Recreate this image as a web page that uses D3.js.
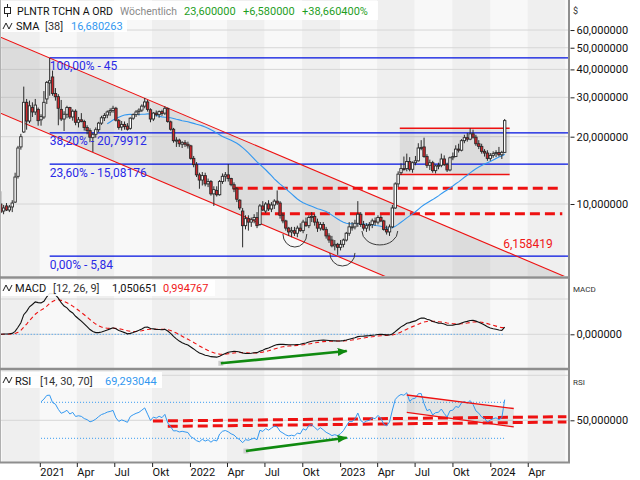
<!DOCTYPE html>
<html><head><meta charset="utf-8">
<script src="https://cdn.jsdelivr.net/npm/d3@7/dist/d3.min.js"></script>
<style>
html,body{margin:0;padding:0;background:#fff;}
text{font-family:Roboto,"Liberation Sans",Arial,sans-serif;}
</style></head><body>
<svg id="chart" width="640" height="480"></svg>
<script>
// ---------------- DATA ----------------
const firstWeek = "2020-09-28";
const opens = [10.0,9.3,9.8,9.4,9.7,10.2,13.3,18.0,21.0,28.5,23.5,27.0,25.8,26.5,23.8,24.5,29.5,34.8,37.0,31.2,
30.2,26.5,24.0,25.2,27.0,24.5,26.0,23.2,23.8,23.4,22.0,21.3,19.8,20.5,21.5,23.0,24.3,25.0,25.8,26.2,
26.8,23.6,22.1,22.7,22.3,21.8,24.2,25.1,25.9,26.3,27.4,28.6,26.4,24.0,25.5,25.1,25.9,25.5,26.7,23.3,
21.6,19.2,19.3,18.5,18.8,18.5,18.2,16.0,15.0,13.5,12.8,13.4,12.3,12.6,11.1,11.5,11.0,12.6,13.3,13.5,
13.0,12.2,11.7,10.4,9.3,8.0,8.6,8.3,8.5,8.7,8.1,9.8,9.3,10.0,9.5,9.9,10.3,10.1,8.9,8.4,
7.8,7.5,7.6,7.4,7.8,7.6,8.3,8.0,8.7,8.8,8.3,7.8,8.1,7.7,7.2,6.9,6.5,6.6,6.4,6.6,
6.9,7.4,7.9,7.9,8.2,9.0,8.1,7.8,8.0,8.1,8.4,8.3,8.7,8.4,7.7,7.5,7.9,9.6,12.3,13.8,
14.4,14.4,15.5,14.3,15.3,15.6,17.8,18.0,16.3,14.9,15.3,14.1,14.8,14.9,15.9,15.0,14.2,16.1,16.3,17.6,
17.4,19.2,19.8,19.5,20.6,19.9,18.6,18.1,17.2,16.9,16.0,16.5,16.8,17.0,16.6,17.02];
const highs = [11.4,9.9,10.1,9.9,10.4,13.8,18.2,20.6,33.5,29.5,29.0,28.5,29.5,27.0,25.2,32.0,35.5,45.0,39.5,33.0,
31.0,29.2,26.0,27.5,27.2,26.5,26.5,24.5,25.5,23.8,22.5,21.8,20.8,22.0,23.3,24.8,25.5,26.2,26.8,27.5,
27.2,24.0,23.5,23.4,23.0,24.4,25.4,26.3,26.8,27.9,29.8,29.2,26.8,25.8,26.2,26.2,26.4,27.4,27.0,23.6,
21.9,19.9,19.6,19.1,19.3,19.0,18.4,16.4,15.4,13.8,13.9,13.8,13.0,12.8,12.0,12.0,12.8,13.7,13.9,15.1,
13.1,12.5,11.9,10.5,9.6,8.9,8.9,8.7,9.0,9.2,10.0,10.3,10.2,10.4,10.2,10.5,11.5,10.3,9.1,8.5,
7.9,7.9,7.9,8.0,8.2,8.5,8.7,8.9,9.2,9.0,8.6,8.3,8.3,7.9,7.4,7.2,6.9,6.7,6.9,7.0,
7.5,8.3,8.3,8.5,10.3,9.2,8.4,8.2,8.3,8.6,8.7,8.9,8.9,8.5,8.0,8.1,9.9,12.5,14.0,15.2,
16.3,16.8,16.2,15.5,16.4,18.7,19.3,19.8,16.7,15.8,15.6,15.0,15.3,16.8,16.5,15.3,16.3,17.0,18.3,18.6,
19.5,20.4,20.8,21.8,21.5,20.4,19.3,18.6,17.6,17.4,16.9,17.2,17.4,18.0,17.3,24.0];
const lows = [9.1,9.0,9.3,9.2,9.2,10.1,13.0,17.5,20.8,21.5,23.0,24.5,25.0,22.4,22.4,24.0,28.0,30.5,30.5,29.0,
22.5,23.5,21.2,24.2,24.0,23.6,22.5,22.0,23.2,21.3,20.5,18.9,17.1,19.8,21.0,22.6,23.5,24.2,24.8,25.6,
23.4,21.5,21.3,21.5,21.3,21.5,23.8,24.5,24.9,25.8,26.8,25.9,23.2,23.5,24.6,24.3,24.8,25.0,23.1,21.3,
18.8,18.0,18.0,17.8,18.0,17.7,15.8,14.6,13.2,11.7,12.1,12.0,11.9,10.9,9.8,10.8,10.9,12.3,12.6,12.6,
12.0,11.3,10.2,9.4,6.4,7.7,7.6,7.9,8.2,7.8,8.0,9.3,9.1,9.3,9.2,9.5,9.9,8.6,8.2,7.6,
7.2,7.1,7.2,7.1,7.5,7.4,7.9,7.8,8.3,8.0,7.5,7.6,7.6,7.0,6.7,6.4,6.2,5.92,6.2,6.4,
6.8,7.2,7.6,7.7,7.9,7.9,7.6,7.5,7.6,7.8,8.0,8.1,8.3,7.6,7.3,7.2,7.8,9.5,11.9,13.5,
14.1,14.0,14.0,13.8,14.9,15.5,17.4,16.1,14.5,14.2,13.8,13.7,14.3,14.6,14.8,13.9,14.0,15.7,16.2,17.0,
17.2,18.7,19.0,19.3,19.6,18.2,17.6,16.8,16.3,15.6,15.6,16.1,16.2,16.3,15.9,16.9];
const closes = [9.2,9.6,9.4,9.7,10.1,13.2,17.8,20.0,28.5,23.5,27.5,25.8,27.7,23.6,24.6,28.5,35.0,35.6,31.2,30.2,
26.8,24.0,25.2,27.0,24.5,26.0,23.2,23.8,23.4,22.0,21.3,19.9,20.5,21.5,23.0,24.3,24.9,25.8,26.2,26.8,
23.7,22.0,22.7,22.2,21.6,24.2,25.1,25.8,26.3,27.4,28.6,26.5,24.0,25.5,25.1,25.9,25.4,26.8,23.4,21.6,
19.2,19.3,18.6,18.8,18.5,18.2,16.0,15.0,13.5,12.8,13.4,12.3,12.6,11.1,11.6,11.0,12.6,13.3,13.5,13.0,
12.2,11.7,10.5,9.6,8.0,8.6,8.3,8.5,8.7,8.0,9.8,9.4,10.0,9.5,9.9,10.3,10.1,8.9,8.4,7.8,
7.5,7.6,7.4,7.8,7.6,8.3,8.0,8.7,8.8,8.3,7.8,8.1,7.7,7.2,6.9,6.5,6.6,6.4,6.6,6.9,
7.4,7.9,7.9,8.2,9.0,8.1,7.8,8.0,8.1,8.4,8.3,8.7,8.4,7.7,7.5,7.9,9.6,12.3,13.6,14.4,
14.3,15.5,14.3,15.3,15.6,17.8,17.9,16.3,14.9,15.3,14.1,14.8,14.9,15.9,15.0,14.2,16.1,16.3,17.6,17.4,
19.2,19.8,19.5,20.6,19.9,18.6,18.1,17.2,16.9,16.0,16.5,16.8,17.0,16.6,17.02,23.6];

const priceTicks = [10,20,30,40,50,60];
const xTickDates = ["2021-01-01","2021-04-01","2021-07-01","2021-10-01","2022-01-01","2022-04-01","2022-07-01","2022-10-01",
                    "2023-01-01","2023-04-01","2023-07-01","2023-10-01","2024-01-01","2024-04-01"];
const xTickLabels = ["2021","Apr","Jul","Okt","2022","Apr","Jul","Okt","2023","Apr","Jul","Okt","2024","Apr"];
const fibLevels = [45, 20.79912, 15.08176, 5.84];
const fibLabels = ["100,00% - 45","38,20% - 20,79912","23,60% - 15,08176","0,00% - 5,84"];
const fibStart = "2021-01-25";
const channelUpper = [["2021-01-25",45],["2024-02-05",6.158419]];
const channelRatio = 2.19;
const channelLabel = "6,158419";
const supportLevels = [11.75, 9.05];
const supportStarts = ["2022-04-15","2022-06-20"];
const supportEnd = "2024-06-24";
const boxDates = ["2023-05-26","2024-02-17"];
const boxLevels = [21.8, 13.55];
const arcDates = [["2022-08-15","2022-10-12"],["2022-12-07","2023-02-06"],["2023-02-23","2023-05-21"]];
const arcLevels = [[7.34,6.42],[6.04,5.28],[7.57,6.56]];
const macdArrow = [["2022-03-17",-4.11],["2023-01-17",-2.37]];
const rsiArrow = [["2022-05-17",15.9],["2023-01-17",30.7]];
const rsiChanUpper = [["2023-06-12",78.1],["2024-02-27",63.1]];
const rsiChanLower = [["2023-06-12",58.7],["2024-02-27",42.6]];
const rsiDashA = [["2021-10-03",49.2],["2024-07-04",54.0]];
const rsiDashB = [["2021-11-08",43.3],["2024-07-04",48.1]];

// ---------------- LAYOUT ----------------
const svg = d3.select("#chart");
const PR = 568.5;                 // plot right edge
const main = {t:0, b:276}, mp = {t:279, b:368}, rp = {t:370, b:462};
const parse = d3.utcParse("%Y-%m-%d");
const t0 = parse(firstWeek);
const dates = closes.map((c,i)=>d3.utcDay.offset(t0, 7*i));

const x = d3.scaleUtc().domain([parse("2021-01-01"), parse("2024-01-01")]).range([39.8, 490.3]);
const y = d3.scaleLog().domain([10,20]).range([204,136.7]);
const ym = d3.scaleLinear().domain([0,5]).range([334.3,299]);
const yr = d3.scaleLinear().domain([50,100]).range([420.3,375.3]);
const de = d3.formatLocale({decimal:",",thousands:".",grouping:[3],currency:["","$"]});
const f6 = de.format(".6f");

// indicators
function ema(arr,n){const k=2/(n+1);let p=arr[0];return arr.map((v,i)=>{p=i===0?v:v*k+p*(1-k);return p;});}
const e12 = ema(closes,12), e26 = ema(closes,26);
const macd = e12.map((v,i)=>v-e26[i]);
const signal = ema(macd,9);
const sma = closes.map((c,i)=> i<37 ? null : d3.mean(closes.slice(i-37,i+1)));
const rsi = new Array(closes.length).fill(null);
{ let ag=0, al=0;
  for(let i=1;i<closes.length;i++){
    const ch=closes[i]-closes[i-1], g=Math.max(ch,0), l=Math.max(-ch,0);
    if(i<=14){ ag+=g/14; al+=l/14; if(i===14) rsi[i]=100-100/(1+ag/al); }
    else { ag=(ag*13+g)/14; al=(al*13+l)/14; rsi[i]=100-100/(1+ag/al); }
  } }

// defs
const defs = svg.append("defs");
function clip(id,t,b){defs.append("clipPath").attr("id",id).append("rect").attr("x",0).attr("y",t).attr("width",PR).attr("height",b-t);}
clip("cMain",main.t,main.b); clip("cMacd",mp.t,mp.b); clip("cRsi",rp.t,rp.b);
defs.append("marker").attr("id","arrG").attr("viewBox","0 0 10 8").attr("refX",9).attr("refY",4)
  .attr("markerWidth",10).attr("markerHeight",8).attr("markerUnits","userSpaceOnUse").attr("orient","auto")
  .append("path").attr("d","M0,0 L10,4 L0,8 Z").attr("fill","#108a10");

// backgrounds with quarter bands
const quarters = d3.utcMonth.every(3).range(parse("2020-07-01"), parse("2024-10-02"));
function bands(p, cid){
  const g = svg.append("g").attr("clip-path",`url(#${cid})`);
  g.append("rect").attr("x",0).attr("y",p.t).attr("width",PR).attr("height",p.b-p.t).attr("fill","#f4f4f4");
  quarters.forEach((q,k)=>{
    const q2 = d3.utcMonth.offset(q,3);
    g.append("rect").attr("x",x(q)).attr("y",p.t).attr("width",x(q2)-x(q)).attr("height",p.b-p.t)
      .attr("fill", (q.getUTCMonth()/3)%2===0 ? "#f8f8f8" : "#efefef");
  });
}
bands(main,"cMain"); bands(mp,"cMacd"); bands(rp,"cRsi");

// grid lines
const grid = svg.append("g").attr("stroke","#d6d6d6").attr("stroke-width",1);
priceTicks.forEach(v=>grid.append("line").attr("x1",0).attr("x2",PR).attr("y1",y(v)).attr("y2",y(v)));
[0,5].forEach(v=>grid.append("line").attr("x1",0).attr("x2",PR).attr("y1",ym(v)).attr("y2",ym(v)));
[50,100].forEach(v=>grid.append("line").attr("x1",0).attr("x2",PR).attr("y1",yr(v)).attr("y2",yr(v)));

// ---------------- MAIN PANEL ----------------
const gm = svg.append("g").attr("clip-path","url(#cMain)");
const ax = x(parse(channelUpper[0][0])), ay = y(channelUpper[0][1]);
const bx = x(parse(channelUpper[1][0])), by = y(channelUpper[1][1]);
const slope = (by-ay)/(bx-ax);
const yU = px => ay + (px-ax)*slope;
const off = y(10/channelRatio) - y(10);
gm.append("path").attr("d",`M0,${yU(0)} L${PR},${yU(PR)} L${PR},${yU(PR)+off} L0,${yU(0)+off} Z`)
  .attr("fill","#7a7a7a").attr("fill-opacity",0.16);
const bxa = x(parse(boxDates[0])), bxb = x(parse(boxDates[1]));
gm.append("rect").attr("x",bxa).attr("y",y(boxLevels[0])).attr("width",bxb-bxa).attr("height",y(boxLevels[1])-y(boxLevels[0]))
  .attr("fill","#7a7a7a").attr("fill-opacity",0.16);
fibLevels.forEach(v=>gm.append("line").attr("x1",x(parse(fibStart))).attr("x2",PR).attr("y1",y(v)).attr("y2",y(v))
  .attr("stroke","#0010e0").attr("stroke-width",1.2));
supportLevels.forEach((v,k)=>gm.append("line").attr("x1",x(parse(supportStarts[k]))).attr("x2",x(parse(supportEnd)))
  .attr("y1",y(v)).attr("y2",y(v)).attr("stroke","#ee1111").attr("stroke-width",3).attr("stroke-dasharray","10,5"));
gm.append("line").attr("x1",0).attr("y1",yU(0)).attr("x2",PR).attr("y2",yU(PR)).attr("stroke","#ee1111").attr("stroke-width",1.1);
gm.append("line").attr("x1",0).attr("y1",yU(0)+off).attr("x2",PR).attr("y2",yU(PR)+off).attr("stroke","#ee1111").attr("stroke-width",1.1);
boxLevels.forEach(v=>gm.append("line").attr("x1",bxa).attr("x2",bxb).attr("y1",y(v)).attr("y2",y(v)).attr("stroke","#ee1111").attr("stroke-width",1.5));
gm.append("path").datum(sma.map((v,i)=>[dates[i],v]).filter(d=>d[1]!==null))
  .attr("d",d3.line().x(d=>x(d[0])).y(d=>y(d[1]))).attr("fill","none").attr("stroke","#3398f0").attr("stroke-width",1.1);
const cg = gm.append("g");
dates.forEach((d,i)=>{
  const cx = x(d), o=opens[i], c=closes[i];
  cg.append("line").attr("x1",cx).attr("x2",cx).attr("y1",y(highs[i])).attr("y2",y(lows[i])).attr("stroke","#2a2a2a").attr("stroke-width",1);
  const top = y(Math.max(o,c)), bot = y(Math.min(o,c));
  cg.append("rect").attr("x",cx-1.2).attr("y",top).attr("width",2.4).attr("height",Math.max(1,bot-top))
    .attr("fill", c>=o ? "#ffffff" : "#d0262a").attr("stroke","#2a2a2a").attr("stroke-width",0.9);
});
arcDates.forEach((ad,k)=>{
  const x1 = x(parse(ad[0])), x2 = x(parse(ad[1])), yt = y(arcLevels[k][0]), yb = y(arcLevels[k][1]);
  gm.append("path").attr("d",`M${x1},${yt} A${(x2-x1)/2},${yb-yt} 0 0 0 ${x2},${yt}`)
    .attr("fill","none").attr("stroke","#3a3a3a").attr("stroke-width",1);
});
fibLevels.forEach((v,k)=>gm.append("text").attr("x",x(parse(fibStart))).attr("y",y(v)+12.5)
  .attr("font-size",12).attr("fill","#2a2ae6").text(fibLabels[k]));
gm.append("text").attr("x",bx-1.5).attr("y",by-3).attr("font-size",12).attr("fill","#f01818").text(channelLabel);

// ---------------- MACD PANEL ----------------
const gmac = svg.append("g").attr("clip-path","url(#cMacd)");
gmac.append("line").attr("x1",x(dates[0])).attr("x2",x(dates[dates.length-1])).attr("y1",ym(0)).attr("y2",ym(0))
  .attr("stroke","#3398f0").attr("stroke-dasharray","1,2");
gmac.append("path").datum(signal).attr("d",d3.line().x((d,i)=>x(dates[i])).y(d=>ym(d)))
  .attr("fill","none").attr("stroke","#ee1111").attr("stroke-width",1.1).attr("stroke-dasharray","4,3");
gmac.append("path").datum(macd).attr("d",d3.line().x((d,i)=>x(dates[i])).y(d=>ym(d)))
  .attr("fill","none").attr("stroke","#111").attr("stroke-width",1.1);
gmac.append("rect").attr("x",x(parse(macdArrow[0][0]))-2.5).attr("y",ym(macdArrow[0][1])-2.5).attr("width",5).attr("height",5).attr("fill","#cfcfcf");
gmac.append("line").attr("x1",x(parse(macdArrow[0][0]))).attr("y1",ym(macdArrow[0][1]))
  .attr("x2",x(parse(macdArrow[1][0]))).attr("y2",ym(macdArrow[1][1]))
  .attr("stroke","#108a10").attr("stroke-width",2.6).attr("marker-end","url(#arrG)");

// ---------------- RSI PANEL ----------------
const gr = svg.append("g").attr("clip-path","url(#cRsi)");
const rsiFirst = rsi.findIndex(v=>v!==null);
[70,30].forEach(v=>gr.append("line").attr("x1",x(dates[rsiFirst])).attr("x2",x(dates[dates.length-1])).attr("y1",yr(v)).attr("y2",yr(v))
  .attr("stroke","#3398f0").attr("stroke-dasharray","1,2"));
const cu = rsiChanUpper.map(d=>[x(parse(d[0])),yr(d[1])]), cl = rsiChanLower.map(d=>[x(parse(d[0])),yr(d[1])]);
gr.append("path").attr("d",`M${cu[0]} L${cu[1]} L${cl[1]} L${cl[0]} Z`).attr("fill","#7a7a7a").attr("fill-opacity",0.16);
[rsiDashA, rsiDashB].forEach(l=>gr.append("line").attr("x1",x(parse(l[0][0]))).attr("y1",yr(l[0][1]))
  .attr("x2",x(parse(l[1][0]))).attr("y2",yr(l[1][1])).attr("stroke","#ee1111").attr("stroke-width",3).attr("stroke-dasharray","10,5"));
gr.append("path").datum(rsi.map((v,i)=>[dates[i],v]).filter(d=>d[1]!==null))
  .attr("d",d3.line().x(d=>x(d[0])).y(d=>yr(d[1]))).attr("fill","none").attr("stroke","#3398f0").attr("stroke-width",1);
[cu,cl].forEach(p=>gr.append("line").attr("x1",p[0][0]).attr("y1",p[0][1]).attr("x2",p[1][0]).attr("y2",p[1][1])
  .attr("stroke","#ee1111").attr("stroke-width",1.3));
gr.append("rect").attr("x",x(parse(rsiArrow[0][0]))-2.5).attr("y",yr(rsiArrow[0][1])-2.5).attr("width",5).attr("height",5).attr("fill","#cfcfcf");
gr.append("line").attr("x1",x(parse(rsiArrow[0][0]))).attr("y1",yr(rsiArrow[0][1]))
  .attr("x2",x(parse(rsiArrow[1][0]))).attr("y2",yr(rsiArrow[1][1]))
  .attr("stroke","#108a10").attr("stroke-width",2.6).attr("marker-end","url(#arrG)");

// ---------------- BORDERS ----------------
const bd = svg.append("g").attr("stroke","#8e8e8e");
bd.append("line").attr("x1",0.5).attr("x2",0.5).attr("y1",0).attr("y2",rp.b).attr("stroke","#b0b0b0");
bd.append("line").attr("x1",569).attr("x2",569).attr("y1",0).attr("y2",rp.b+1).attr("stroke-width",2);
bd.append("line").attr("x1",0).attr("x2",570).attr("y1",277.5).attr("y2",277.5).attr("stroke-width",2.5);
bd.append("line").attr("x1",0).attr("x2",570).attr("y1",369).attr("y2",369).attr("stroke-width",2.5);
bd.append("line").attr("x1",0).attr("x2",570).attr("y1",rp.b+0.5).attr("y2",rp.b+0.5).attr("stroke-width",2);

// ---------------- AXES ----------------
function styleAxis(g,fs){ g.attr("font-family","Roboto,'Liberation Sans',Arial,sans-serif").attr("font-size",fs);
  g.select(".domain").remove(); g.selectAll(".tick line").attr("stroke","#222"); g.selectAll(".tick text").attr("fill","#111"); }
styleAxis(svg.append("g").attr("transform","translate(570.5,0)")
  .call(d3.axisRight(y).tickValues(priceTicks).tickFormat(f6).tickSize(4).tickPadding(2)),11);
styleAxis(svg.append("g").attr("transform","translate(570.5,0)")
  .call(d3.axisRight(ym).tickValues([0]).tickFormat(f6).tickSize(4).tickPadding(2)),11);
styleAxis(svg.append("g").attr("transform","translate(570.5,0)")
  .call(d3.axisRight(yr).tickValues([50]).tickFormat(f6).tickSize(4).tickPadding(2)),11);
const xa = svg.append("g").attr("transform",`translate(0,${rp.b+1})`)
  .call(d3.axisBottom(x).tickValues(xTickDates.map(parse)).tickFormat((d,i)=>xTickLabels[i]).tickSize(4).tickPadding(1));
styleAxis(xa,11);
xa.selectAll(".tick text").attr("text-anchor","start").attr("dx",0);
svg.append("text").attr("x",573).attr("y",14).attr("font-size",9).attr("fill","#333").text("$");
svg.append("text").attr("x",573).attr("y",292).attr("font-size",8).attr("fill","#333").text("MACD");
svg.append("text").attr("x",573).attr("y",385).attr("font-size",8).attr("fill","#333").text("RSI");

// ---------------- HEADERS ----------------
function wave(x0,yc){ svg.append("path").attr("d",`M${x0},${yc+3} L${x0+3},${yc-3} L${x0+6},${yc+3} L${x0+9},${yc-3}`)
  .attr("fill","none").attr("stroke","#222").attr("stroke-width",1); }
function txt(xp,yp,s,col,len){ const t=svg.append("text").attr("x",xp).attr("y",yp).attr("font-size",11).attr("fill",col).text(s);
  if(len) t.attr("textLength",len).attr("lengthAdjust","spacingAndGlyphs"); return t; }
svg.append("rect").attr("x",1).attr("y",1).attr("width",377).attr("height",19).attr("fill","#fff").attr("fill-opacity",0.9);
svg.append("rect").attr("x",1).attr("y",20).attr("width",126).attr("height",12).attr("fill","#fff").attr("fill-opacity",0.9);
svg.append("line").attr("x1",7.5).attr("x2",7.5).attr("y1",4).attr("y2",17).attr("stroke","#222");
svg.append("rect").attr("x",4.5).attr("y",7.5).attr("width",6).attr("height",6).attr("fill","#fff").attr("stroke","#222");
txt(17,15,"PLNTR TCHN A ORD","#111",96); txt(120,15,"Wöchentlich","#8a8a8a",57);
txt(184,15,"23,600000","#1f9e1f"); txt(243,15,"+6,580000","#1f9e1f"); txt(302,15,"+38,660400%","#1f9e1f");
wave(3,26); txt(16,30,"SMA","#111"); txt(45,30,"[38]","#333"); txt(71,30,"16,680263","#3398f0");

svg.append("rect").attr("x",1).attr("y",280).attr("width",214).attr("height",16).attr("fill","#fff").attr("fill-opacity",0.9);
wave(3,288); txt(15,292,"MACD","#111"); txt(53,292,"[12, 26, 9]","#333"); txt(112,292,"1,050651","#111"); txt(163,292,"0,994767","#f01818");
svg.append("rect").attr("x",1).attr("y",372).attr("width",161).attr("height",16).attr("fill","#fff").attr("fill-opacity",0.9);
wave(3,380); txt(15,385,"RSI","#111"); txt(40,385,"[14, 30, 70]","#333"); txt(105,385,"69,293044","#3398f0");
</script></body></html>
